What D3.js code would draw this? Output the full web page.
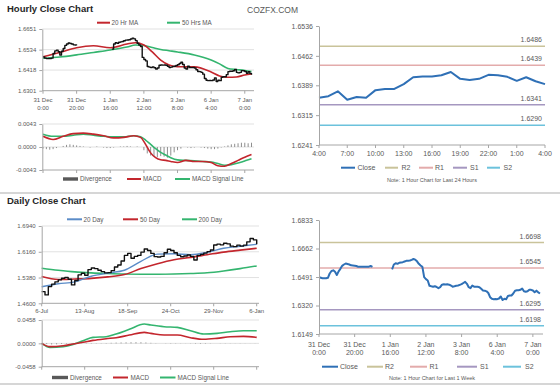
<!DOCTYPE html>
<html>
<head>
<meta charset="utf-8">
<script src="https://cdn.jsdelivr.net/npm/d3@7"></script>
<style>
  body { margin: 0; background: #fff; }
  svg { display: block; font-family: "Liberation Sans", Arial, sans-serif; }
</style>
</head>
<body>
<svg id="chart" width="560" height="386"></svg>
<script>
// ---- tick labels ----
const hourTicks = [0, 20, 40, 60, 80, 100, 120];
const hourTickLabels = [["31 Dec", "0:00"], ["31 Dec", "20:00"], ["1 Jan", "16:00"], ["2 Jan", "12:00"],
  ["3 Jan", "8:00"], ["6 Jan", "4:00"], ["7 Jan", "0:00"]];
const dayTicks = [0, 26, 52, 78, 104, 130];
const dayTickLabels = ["6-Jul", "13-Aug", "18-Sep", "24-Oct", "29-Nov", "6-Jan"];
const last24Ticks = [0, 3, 6, 9, 12, 15, 18, 21, 24];
const last24TickLabels = ["4:00", "7:00", "10:00", "13:00", "16:00", "19:00", "22:00", "1:00", "4:00"];

const hourlyPriceTicks = [1.6301, 1.6418, 1.6534, 1.6651];
const hourlyMacdTicks = [-0.0043, 0, 0.0043];
const dailyPriceTicks = [1.4600, 1.5380, 1.6160, 1.6940];
const dailyMacdTicks = [-0.0458, 0, 0.0458];
const last24PriceTicks = [1.6241, 1.6315, 1.6389, 1.6462, 1.6536];
const weekPriceTicks = [1.6149, 1.6320, 1.6491, 1.6662, 1.6833];

// ---- hourly close, one value per trading hour (31 Dec 0:00 .. 7 Jan 4:00), null = no quotes ----
const hourlyClose = [
  1.6492, 1.6486, 1.6483, 1.6484, 1.6484, 1.6486, 1.6512, 1.6527, 1.6531, 1.6522,
  1.6503, 1.6525, 1.6540, 1.6558, 1.6566, 1.6572, 1.6569, 1.6566, 1.6561, 1.6560,
  1.6559, 1.6557, 1.6552, 1.6553, 1.6552, 1.6552, 1.6553, 1.6552, 1.6553, 1.6557,
  1.6552, null, null, null, null, null, null, null, null, null,
  null, 1.6537, 1.6566, 1.6573, 1.6570, 1.6576, 1.6578, 1.6580, 1.6584, 1.6588,
  1.6589, 1.6590, 1.6594, 1.6599, 1.6595, 1.6585, 1.6570, 1.6560, 1.6552, 1.6490,
  1.6478, 1.6470, 1.6438, 1.6435, 1.6433, 1.6436, 1.6431, 1.6424, 1.6430, 1.6445,
  1.6447, 1.6446, 1.6447, 1.6445, 1.6440, 1.6433, 1.6435, 1.6438, 1.6440, 1.6444,
  1.6448, 1.6455, 1.6462, 1.6450, 1.6430, 1.6424, 1.6440, 1.6433, 1.6432, 1.6433,
  1.6430, 1.6420, 1.6410, 1.6409, 1.6405, 1.6395, 1.6370, 1.6360, 1.6358, 1.6359,
  1.6358, 1.6362, 1.6374, 1.6353, 1.6360, 1.6358, 1.6377, 1.6380, 1.6380, 1.6392,
  1.6409, 1.6411, 1.6411, 1.6414, 1.6422, 1.6405, 1.6402, 1.6405, 1.6415, 1.6414,
  1.6410, 1.6400, 1.6409, 1.6399, 1.6392
];
// the hourly MA chart has no quotes over a longer holiday stretch (first and last missing hour)
const hourlyChartGap = [21, 40];

const hourlyMaHours = [0, 10, 20, 30, 40, 50, 55, 60, 65, 70, 75, 80, 90, 100, 105, 110, 115, 120, 124];
const hourlyMa20 = [1.6494, 1.6518, 1.6545, 1.6556, 1.6545, 1.6566, 1.6573, 1.6560, 1.6521, 1.6475,
  1.6447, 1.6437, 1.6436, 1.6407, 1.6385, 1.6377, 1.6379, 1.6390, 1.6396];
const hourlyMa50 = [1.6485, 1.6492, 1.6504, 1.6518, 1.6532, 1.6549, 1.6560, 1.6557, 1.6546, 1.6535,
  1.6528, 1.6521, 1.6504, 1.6475, 1.6453, 1.6427, 1.6421, 1.6416, 1.6410];

const hourlyMacdHours = [0, 6, 12, 18, 24, 30, 36, 42, 48, 54, 58, 61, 64, 67, 70, 73, 76, 80, 85, 90,
  95, 100, 104, 108, 112, 116, 120, 124];
const hourlyMacd = [0.0020, 0.0014, 0.0020, 0.0025, 0.0026, 0.0024, 0.0021, 0.0017, 0.0018, 0.0021,
  0.0018, 0.0005, -0.0011, -0.0020, -0.0024, -0.0025, -0.0027, -0.0029, -0.0025, -0.0027,
  -0.0027, -0.0029, -0.0035, -0.0036, -0.0031, -0.0025, -0.0019, -0.0014];
const hourlySignal = [0.0024, 0.0020, 0.0020, 0.0022, 0.0024, 0.0022, 0.0020, 0.0019, 0.0019, 0.0021,
  0.0019, 0.0013, 0.0005, -0.0003, -0.0010, -0.0015, -0.0020, -0.0024, -0.0025, -0.0026,
  -0.0027, -0.0028, -0.0031, -0.0034, -0.0033, -0.0030, -0.0026, -0.0022];
// every 2 hours
const hourlyDivergence = [
  -0.0003, -0.0004, -0.0005, -0.0004, -0.0002, 0.0000,
  0.0002, 0.0004, 0.0005, 0.0004, 0.0003, 0.0002,
  0.0001, 0.0000, -0.0001, 0.0000, 0.0001, 0.0000,
  -0.0001, -0.0002, -0.0002, -0.0001, 0.0000, 0.0001,
  0.0001, 0.0002, 0.0001, 0.0000, 0.0001, 0.0000,
  -0.0006, -0.0012, -0.0016, -0.0018, -0.0019, -0.0017,
  -0.0018, -0.0020, -0.0016, -0.0010, -0.0006, -0.0003,
  0.0000, -0.0001, -0.0002, -0.0001, 0.0000, -0.0001,
  -0.0002, -0.0003, -0.0004, -0.0004, -0.0003, -0.0001,
  0.0001, 0.0003, 0.0005, 0.0006, 0.0007, 0.0008,
  0.0008, 0.0007, 0.0008
];

// ---- daily close, every 2nd trading day (6 Jul .. 6 Jan) ----
const dailyClose = [
  1.4954, 1.4854, 1.5105, 1.5180, 1.5250, 1.5310, 1.5359, 1.5380, 1.5330, 1.5157,
  1.5290, 1.5460, 1.5510, 1.5450, 1.5620, 1.5670, 1.5650, 1.5600, 1.5560, 1.5520,
  1.5530, 1.5590, 1.5700, 1.5760, 1.5880, 1.6050, 1.6110, 1.5964, 1.6020, 1.6050,
  1.6150, 1.6245, 1.6200, 1.6110, 1.6012, 1.6000, 1.6020, 1.6130, 1.6236, 1.6200,
  1.6130, 1.6050, 1.6010, 1.6030, 1.6060, 1.6020, 1.5912, 1.6050, 1.6080, 1.6120,
  1.6164, 1.6215, 1.6366, 1.6390, 1.6370, 1.6417, 1.6400, 1.6330, 1.6315, 1.6360,
  1.6330, 1.6360, 1.6460, 1.6560, 1.6520, 1.6390
];
const dailyMaDays = [0, 10, 20, 30, 40, 50, 60, 70, 80, 90, 100, 110, 120, 130];
const dailyMa20 = [1.5100, 1.5190, 1.5250, 1.5420, 1.5515, 1.5600, 1.5870, 1.6090, 1.6100, 1.6070,
  1.6140, 1.6265, 1.6325, 1.6387];
const dailyMa50 = [1.5409, 1.5320, 1.5335, 1.5355, 1.5400, 1.5470, 1.5650, 1.5800, 1.5920, 1.5990,
  1.6070, 1.6150, 1.6210, 1.6266];
const dailyMa200 = [1.5661, 1.5600, 1.5550, 1.5520, 1.5500, 1.5485, 1.5480, 1.5480, 1.5485, 1.5500,
  1.5525, 1.5580, 1.5650, 1.5731];

const dailyMacdDays = [0, 5, 13, 19, 25, 31, 39, 45, 53, 62, 66, 74, 82, 90, 98, 106, 114, 122, 130];
const dailyMacd = [0.0000, -0.0065, -0.0046, -0.0013, 0.0020, 0.0058, 0.0091, 0.0111, 0.0163, 0.0216,
  0.0196, 0.0163, 0.0163, 0.0111, 0.0079, 0.0098, 0.0130, 0.0137, 0.0118];
const dailySignal = [0.0000, -0.0079, -0.0065, -0.0020, 0.0052, 0.0118, 0.0130, 0.0183, 0.0275, 0.0379,
  0.0359, 0.0327, 0.0314, 0.0248, 0.0183, 0.0196, 0.0229, 0.0248, 0.0248];
// every 3 trading days
const dailyDivergence = [
  -0.0005, -0.0015, -0.0020, -0.0018, -0.0012, -0.0008, -0.0004, 0.0000, 0.0003, 0.0005,
  0.0006, 0.0005, 0.0004, 0.0006, 0.0010, 0.0014, 0.0016, 0.0018, 0.0020, 0.0021,
  0.0020, 0.0016, 0.0010, 0.0004, 0.0000, -0.0004, -0.0006, -0.0005, -0.0003, -0.0002,
  -0.0004, -0.0008, -0.0010, -0.0008, -0.0004, 0.0000, 0.0003, 0.0004, 0.0003, 0.0002,
  0.0003, 0.0002, 0.0001, 0.0002
];

// ---- pivot charts ----
const last24Close = [1.6358, 1.6362, 1.6374, 1.6353, 1.6360, 1.6358, 1.6377, 1.6380, 1.6380, 1.6392,
  1.6409, 1.6411, 1.6411, 1.6414, 1.6422, 1.6405, 1.6402, 1.6405, 1.6415, 1.6414,
  1.6410, 1.6400, 1.6409, 1.6399, 1.6392];
const levelNames = ["R2", "R1", "S1", "S2"];
const last24Levels = [1.6486, 1.6439, 1.6341, 1.6290];
const weekLevels = [1.6698, 1.6545, 1.6295, 1.6198];

// ---- styles ----
const levelColors = ["#c9c39a", "#e3abab", "#a597c0", "#6cc2dc"];
const closeBlue = "#2f70b6";
const maRed = "#c3262d";
const maGreen = "#34b56f";
const maBlue = "#5b8cc8";
const axisCol = "#a6a6a6";
const gridCol = "#d9d9d9";
const textCol = "#595959";

const svg = d3.select("#chart");
svg.append("rect").attr("width", 560).attr("height", 386).attr("fill", "#fff");

const fmt4 = d => d.toFixed(4);

function grid(ys, ticks, x0, x1) {
  svg.append("g").selectAll("line").data(ticks).join("line")
    .attr("x1", x0).attr("x2", x1)
    .attr("y1", d => ys(d)).attr("y2", d => ys(d))
    .attr("stroke", gridCol).attr("stroke-width", 0.8);
}

function yAxis(ys, ticks, x, size) {
  const g = svg.append("g").attr("transform", `translate(${x},0)`)
    .call(d3.axisLeft(ys).tickValues(ticks).tickFormat(fmt4).tickSize(3).tickSizeOuter(0).tickPadding(3));
  g.attr("font-family", null).attr("font-size", size);
  g.select(".domain").attr("stroke", axisCol);
  g.selectAll(".tick line").attr("stroke", axisCol);
  g.selectAll(".tick text").attr("fill", textCol);
}

function xAxis(xs, y, x0, x1, ticks, labels, baselines, size) {
  const g = svg.append("g");
  g.append("line").attr("x1", x0).attr("x2", x1).attr("y1", y).attr("y2", y).attr("stroke", axisCol);
  g.selectAll("line.t").data(ticks).join("line").attr("class", "t")
    .attr("x1", d => xs(d)).attr("x2", d => xs(d)).attr("y1", y).attr("y2", y + 3)
    .attr("stroke", axisCol);
  if (!labels) return;
  const t = g.selectAll("text").data(ticks).join("text")
    .attr("x", d => xs(d)).attr("text-anchor", "middle")
    .attr("font-size", size).attr("fill", textCol);
  t.each(function (d, i) {
    const lines = Array.isArray(labels[i]) ? labels[i] : [labels[i]];
    d3.select(this).selectAll("tspan").data(lines).join("tspan")
      .attr("x", xs(d)).attr("y", (l, j) => baselines[j]).text(l => l);
  });
}

function plotLine(xs, ys, xsData, vals, color, width, curve, gap) {
  const pts = vals.map((v, i) => [xsData[i], v]);
  svg.append("path").datum(pts)
    .attr("fill", "none").attr("stroke", color).attr("stroke-width", width)
    .attr("stroke-linejoin", "round")
    .attr("d", d3.line()
      .defined(d => d[1] != null && !(gap && d[0] >= gap[0] && d[0] <= gap[1]))
      .x(d => xs(d[0])).y(d => ys(d[1])).curve(curve || d3.curveLinear));
}

function bars(xs, ys, step, vals, color) {
  svg.append("g").selectAll("rect").data(vals).join("rect")
    .attr("x", (d, i) => xs(i * step) - 0.5).attr("width", 1)
    .attr("y", d => Math.min(ys(d), ys(0)))
    .attr("height", d => Math.abs(ys(d) - ys(0)))
    .attr("fill", color);
}

function legend(items, y, size) {
  const g = svg.append("g");
  items.forEach(it => {
    if (it.type === "rect") {
      g.append("rect").attr("x", it.x0).attr("y", y - 1.7).attr("width", it.x1 - it.x0).attr("height", 3.4)
        .attr("fill", it.color);
    } else {
      g.append("line").attr("x1", it.x0).attr("x2", it.x1).attr("y1", y).attr("y2", y)
        .attr("stroke", it.color).attr("stroke-width", 2);
    }
    g.append("text").attr("x", it.tx).attr("y", y + size * 0.36).attr("font-size", size)
      .attr("fill", textCol).text(it.label);
  });
}

// ---- titles / frame ----
svg.append("text").attr("x", 7).attr("y", 11.5).attr("font-size", 9.5).attr("font-weight", "bold")
  .attr("fill", "#262626").text("Hourly Close Chart");
svg.append("text").attr("x", 247).attr("y", 12.5).attr("font-size", 8.5).attr("fill", textCol).text("COZFX.COM");
svg.append("text").attr("x", 7).attr("y", 204).attr("font-size", 9.5).attr("font-weight", "bold")
  .attr("fill", "#262626").text("Daily Close Chart");
svg.append("line").attr("x1", 0).attr("x2", 560).attr("y1", 193).attr("y2", 193)
  .attr("stroke", "#c8c8c8").attr("stroke-width", 1.5);
svg.append("line").attr("x1", 0).attr("x2", 560).attr("y1", 384).attr("y2", 384)
  .attr("stroke", "#c8c8c8").attr("stroke-width", 1.5);

// ---- 1: hourly price ----
const xh = d3.scaleLinear().domain([0, 124]).range([43, 251.5]);
const yh = d3.scaleLinear().domain([1.6301, 1.6651]).range([90.7, 29]);
grid(yh, hourlyPriceTicks.slice(1), 42.3, 254);
plotLine(xh, yh, hourlyMaHours, hourlyMa50, maGreen, 1.6, d3.curveMonotoneX);
plotLine(xh, yh, hourlyMaHours, hourlyMa20, maRed, 1.6, d3.curveMonotoneX);
plotLine(xh, yh, d3.range(hourlyClose.length), hourlyClose, "#111", 1.4, d3.curveStepAfter, hourlyChartGap);
yAxis(yh, hourlyPriceTicks, 42.3, 6);
xAxis(xh, 90.7, 42.3, 254, hourTicks, hourTickLabels, [101.5, 109.5], 6);
legend([
  { x0: 97, x1: 110, tx: 111.5, color: maRed, label: "20 Hr MA" },
  { x0: 167, x1: 180, tx: 182, color: maGreen, label: "50 Hrs MA" }
], 22.7, 6.3);

// ---- 2: hourly MACD ----
const yhm = d3.scaleLinear().domain([-0.0043, 0.0043]).range([170, 124]);
grid(yhm, [0, 0.0043], 42.3, 254);
bars(xh, yhm, 2, hourlyDivergence, "#8f8f8f");
plotLine(xh, yhm, hourlyMacdHours, hourlySignal, maGreen, 1.6, d3.curveMonotoneX);
plotLine(xh, yhm, hourlyMacdHours, hourlyMacd, maRed, 1.6, d3.curveMonotoneX);
yAxis(yhm, hourlyMacdTicks, 42.3, 6);
xAxis(xh, 170, 42.3, 254, hourTicks, null);
legend([
  { type: "rect", x0: 63, x1: 78, tx: 80, color: "#595959", label: "Divergence" },
  { x0: 127, x1: 141, tx: 143, color: maRed, label: "MACD" },
  { x0: 175, x1: 190, tx: 192, color: maGreen, label: "MACD Signal Line" }
], 179, 6.3);

// ---- 3: daily price ----
const xd = d3.scaleLinear().domain([0, 130]).range([41.7, 256.7]);
const yd = d3.scaleLinear().domain([1.46, 1.694]).range([303.3, 226]);
grid(yd, dailyPriceTicks.slice(1), 41.7, 259);
plotLine(xd, yd, dailyMaDays, dailyMa200, maGreen, 1.6, d3.curveMonotoneX);
plotLine(xd, yd, dailyMaDays, dailyMa50, maRed, 1.6, d3.curveMonotoneX);
plotLine(xd, yd, dailyMaDays, dailyMa20, maBlue, 1.4, d3.curveMonotoneX);
plotLine(xd, yd, dailyClose.map((v, i) => i * 2), dailyClose, "#111", 1.4, d3.curveStepAfter);
yAxis(yd, dailyPriceTicks, 41.7, 6);
xAxis(xd, 303.3, 41.7, 259, dayTicks, dayTickLabels, [313.3], 6);
legend([
  { x0: 67, x1: 82, tx: 83.5, color: maBlue, label: "20 Day" },
  { x0: 123, x1: 138, tx: 140, color: maRed, label: "50 Day" },
  { x0: 182, x1: 197, tx: 198.5, color: maGreen, label: "200 Day" }
], 219.3, 6.3);

// ---- 4: daily MACD ----
const ydm = d3.scaleLinear().domain([-0.0458, 0.0458]).range([366.7, 320]);
grid(ydm, [0, 0.0458], 41.7, 259);
bars(xd, ydm, 3, dailyDivergence, "#7f7f7f");
plotLine(xd, ydm, dailyMacdDays, dailySignal, maGreen, 1.6, d3.curveMonotoneX);
plotLine(xd, ydm, dailyMacdDays, dailyMacd, maRed, 1.6, d3.curveMonotoneX);
yAxis(ydm, dailyMacdTicks, 41.7, 6);
xAxis(xd, 366.7, 41.7, 259, dayTicks, null);
legend([
  { type: "rect", x0: 52, x1: 68, tx: 70, color: "#595959", label: "Divergence" },
  { x0: 113, x1: 128, tx: 130.5, color: maRed, label: "MACD" },
  { x0: 160, x1: 175.5, tx: 177.5, color: maGreen, label: "MACD Signal Line" }
], 377.5, 6.3);

// ---- pivot panels ----
function pivotPanel(xs, ys, ticks, levels, closeX, closeVals, labelRight) {
  levels.forEach((v, i) => {
    svg.append("line").attr("x1", xs.range()[0]).attr("x2", labelRight + 3)
      .attr("y1", ys(v)).attr("y2", ys(v)).attr("stroke", levelColors[i]).attr("stroke-width", 1.5);
    svg.append("text").attr("x", labelRight).attr("y", ys(v) - 4).attr("text-anchor", "end")
      .attr("font-size", 7).attr("fill", textCol).text(fmt4(v));
  });
  plotLine(xs, ys, closeX, closeVals, closeBlue, 2);
  yAxis(ys, ticks, xs.range()[0], 7);
}

// 5: last 24 hours
const x24 = d3.scaleLinear().domain([0, 24]).range([319, 545]);
const y24 = d3.scaleLinear().domain([1.6241, 1.6536]).range([145, 26]);
pivotPanel(x24, y24, last24PriceTicks, last24Levels, d3.range(last24Close.length), last24Close, 542);
xAxis(x24, 145, 319, 545, last24Ticks, last24TickLabels, [156], 7);
legend([
  { x0: 341, x1: 355, tx: 357.5, color: closeBlue, label: "Close" },
  { x0: 385, x1: 398, tx: 401.5, color: levelColors[0], label: levelNames[0] },
  { x0: 419, x1: 433, tx: 435, color: levelColors[1], label: levelNames[1] },
  { x0: 453, x1: 467, tx: 470, color: levelColors[2], label: levelNames[2] },
  { x0: 487, x1: 500, tx: 503.5, color: levelColors[3], label: levelNames[3] }
], 167.7, 7);
svg.append("text").attr("x", 432).attr("y", 182).attr("text-anchor", "middle").attr("font-size", 5.5)
  .attr("fill", textCol).text("Note: 1 Hour Chart for Last 24 Hours");

// 6: last week
const xw = d3.scaleLinear().domain([0, 124]).range([319, 540]);
const yw = d3.scaleLinear().domain([1.6149, 1.6833]).range([334, 220]);
pivotPanel(xw, yw, weekPriceTicks, weekLevels, d3.range(hourlyClose.length), hourlyClose, 541);
xAxis(xw, 334, 319, 543, hourTicks, hourTickLabels, [346.5, 355], 7);
legend([
  { x0: 322, x1: 338, tx: 340, color: closeBlue, label: "Close" },
  { x0: 367, x1: 383, tx: 385, color: levelColors[0], label: levelNames[0] },
  { x0: 410, x1: 427, tx: 429.5, color: levelColors[1], label: levelNames[1] },
  { x0: 457, x1: 477, tx: 480, color: levelColors[2], label: levelNames[2] },
  { x0: 503, x1: 521, tx: 525, color: levelColors[3], label: levelNames[3] }
], 366.7, 7);
svg.append("text").attr("x", 432).attr("y", 379.5).attr("text-anchor", "middle").attr("font-size", 5.5)
  .attr("fill", textCol).text("Note: 1 Hour Chart for Last 1 Week");
</script>
</body>
</html>
